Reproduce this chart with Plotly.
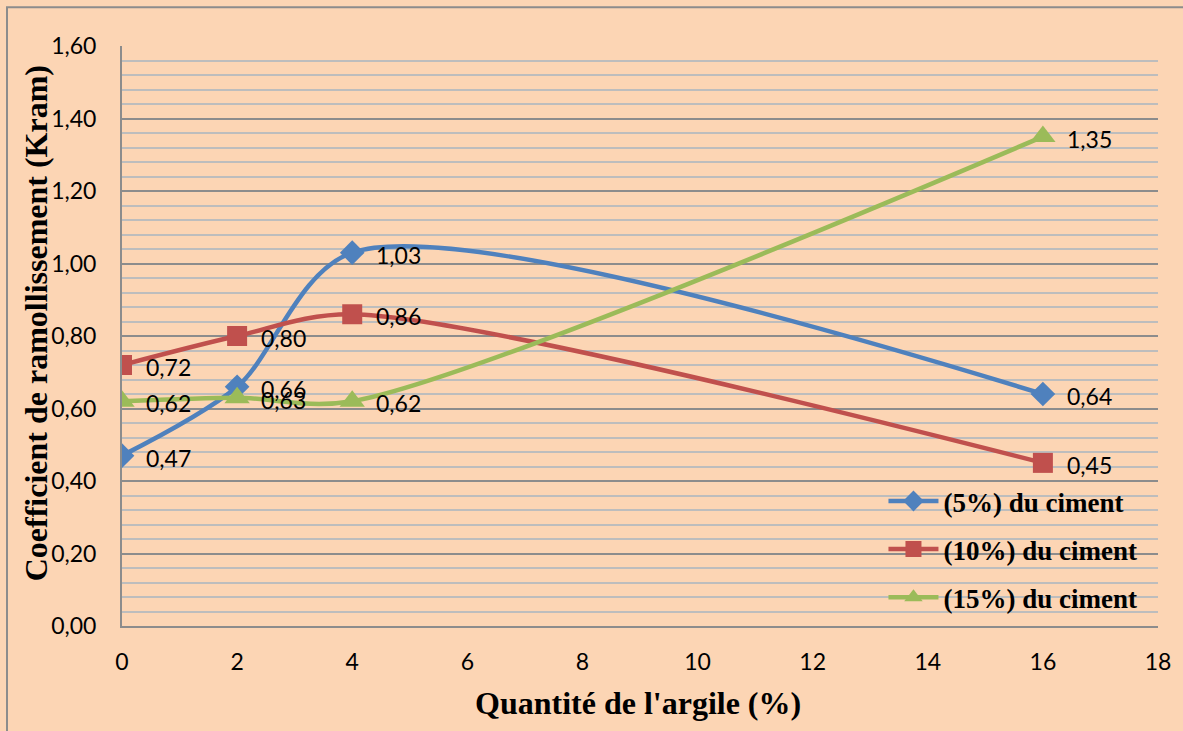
import plotly.graph_objects as go

# Clay content (% of mix)
argile = [0, 2, 4, 16]

# Softening coefficient for each cement dosage
kram_5 = [0.47, 0.66, 1.03, 0.64]
kram_10 = [0.72, 0.80, 0.86, 0.45]
kram_15 = [0.62, 0.63, 0.62, 1.35]

series_names = ["(5%) du ciment", "(10%) du ciment", "(15%) du ciment"]
series_values = [kram_5, kram_10, kram_15]
series_colors = ["#4F81BD", "#C0504D", "#9BBB59"]
series_symbols = ["diamond", "square", "triangle-up"]
series_sizes = [19, 20, 22]

x_ticks = list(range(0, 19, 2))
y_ticks = [i * 0.2 for i in range(9)]

BG = "#FCD5B4"
LABEL_FONT = dict(family="Lato, Open Sans, sans-serif", size=23, color="#000000")
TITLE_FONT = dict(family="Liberation Serif, Times New Roman, serif", size=32, color="#000000")

fig = go.Figure()

for i, (name, vals, col, sym, sz) in enumerate(
        zip(series_names, series_values, series_colors, series_symbols, series_sizes)):
    fig.add_trace(go.Scatter(
        x=argile, y=vals, name=name, mode="lines+markers",
        line=dict(color=col, width=4.5, shape="spline", smoothing=0.85),
        marker=dict(symbol=sym, size=sz, color=col),
        legendgroup=f"g{i}",
    ))
    # value labels beside each point
    for xv, yv in zip(argile, vals):
        fig.add_annotation(
            x=xv, y=yv, xref="x", yref="y",
            text=f"{yv:.2f}".replace(".", ","),
            showarrow=False, xanchor="left", yanchor="middle",
            xshift=22, yshift=-2, font=LABEL_FONT,
        )

# axis titles
fig.add_annotation(
    text="<b>Quantité de l'argile (%)</b>", xref="paper", yref="paper",
    x=0.498, y=-0.133, showarrow=False, xanchor="center", yanchor="middle",
    font=TITLE_FONT,
)
fig.add_annotation(
    text="<b>Coefficient de ramollissement (Kram)</b>", xref="paper", yref="paper",
    x=-0.083, y=0.522, showarrow=False, xanchor="center", yanchor="middle",
    textangle=-90, font=TITLE_FONT,
)

# chart frame
fig.add_shape(
    type="rect", xref="paper", yref="paper",
    x0=-0.111, x1=1.05, y0=-0.25, y1=1.067,
    line=dict(color="#8C8C8C", width=2), fillcolor="rgba(0,0,0,0)", layer="below",
)

fig.update_layout(
    width=1183, height=731,
    margin=dict(l=122, r=25, t=46, b=105),
    paper_bgcolor=BG, plot_bgcolor=BG,
    separators=", ",
    showlegend=True,
    legend=dict(
        x=0.735, y=0.257, xanchor="left", yanchor="top",
        bgcolor="rgba(0,0,0,0)", borderwidth=0,
        font=dict(family="Liberation Serif, Times New Roman, serif", size=27,
                  color="#000000", weight="bold"),
        tracegroupgap=10, itemwidth=50,
    ),
    xaxis=dict(
        range=[0, 18], tickvals=x_ticks, ticktext=[str(v) for v in x_ticks],
        showgrid=False, zeroline=False,
        showline=True, linecolor="#8C8C8C", linewidth=2,
        ticks="", ticklabelstandoff=14, tickfont=LABEL_FONT,
    ),
    yaxis=dict(
        range=[0, 1.6], tickvals=y_ticks, tickformat=".2f",
        showgrid=True, gridcolor="#8C8C8C", gridwidth=1.5,
        minor=dict(dtick=0.04, showgrid=True, gridcolor="#BDBDBD", gridwidth=1.5),
        zeroline=False,
        showline=True, linecolor="#8C8C8C", linewidth=2,
        ticks="", ticklabelstandoff=19, tickfont=LABEL_FONT,
    ),
)

fig.write_html("out.html")
